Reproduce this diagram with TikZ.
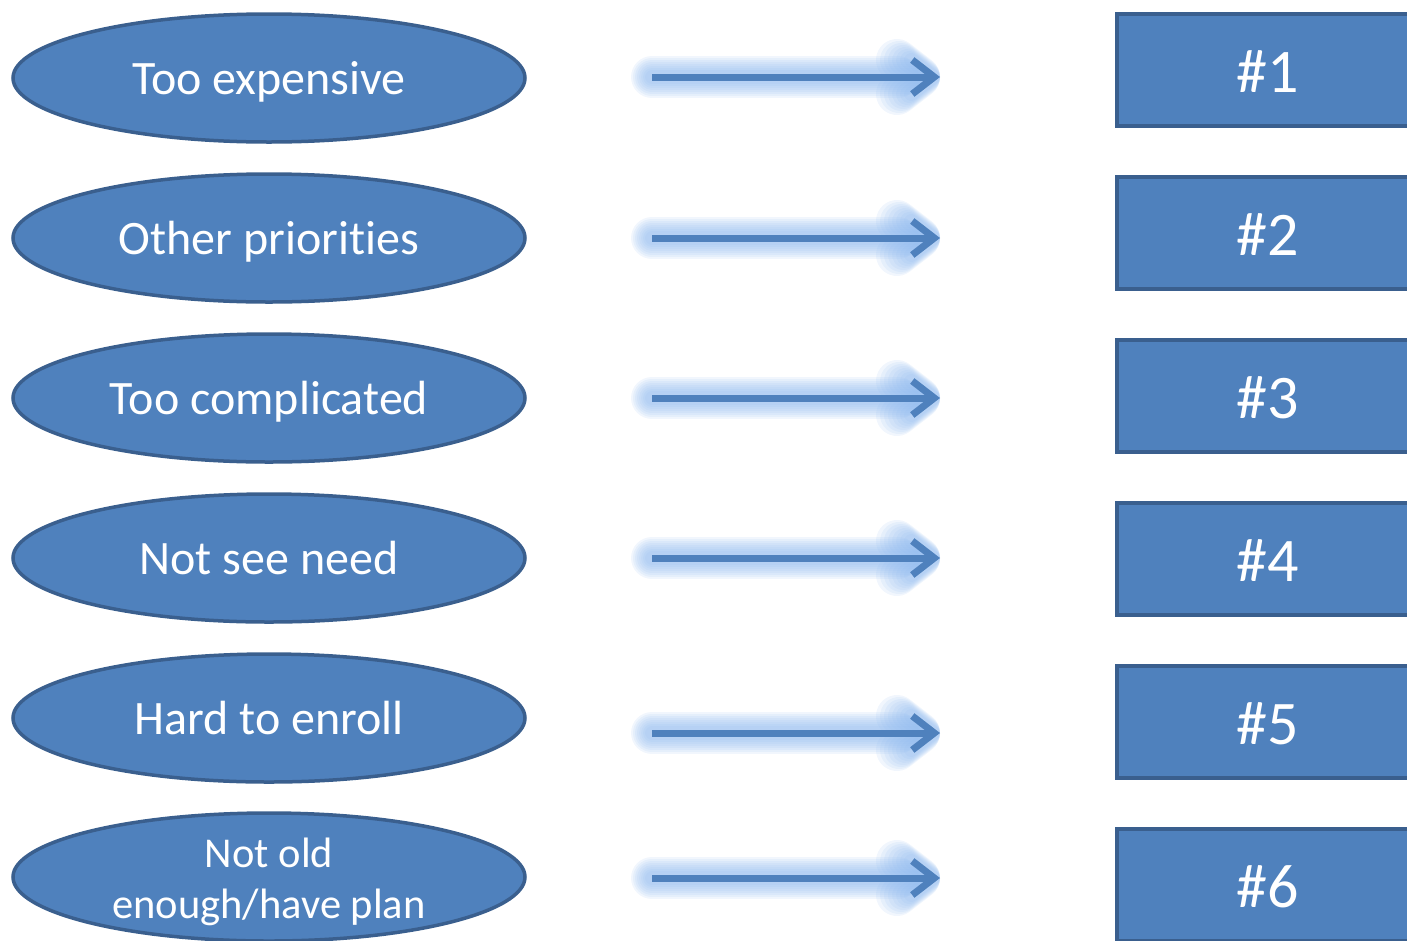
\documentclass[tikz,border=0pt]{standalone}
\usepackage{fontspec}
\setmainfont{Carlito}[Ligatures={NoCommon}]
\usetikzlibrary{shapes.geometric,arrows.meta}
\definecolor{fillblue}{HTML}{4F81BD}
\definecolor{edgeblue}{HTML}{3A5F8E}
\definecolor{glowblue}{HTML}{8DB8EE}
\tikzset{
  reason/.style={ellipse, draw=edgeblue, line width=3.5pt, fill=fillblue,
    minimum width=512pt, minimum height=128pt, inner sep=0pt,
    text=white, font=\fontsize{48}{52}\selectfont, align=center,
    text height=36pt, text depth=4pt},
  rank/.style={rectangle, draw=edgeblue, line width=3.5pt, fill=fillblue,
    minimum width=302pt, minimum height=112pt, inner sep=0pt,
    text=white, font=\fontsize{62}{66}\selectfont,
    text height=46pt, text depth=2pt},
  glowline/.style={draw=glowblue, line cap=round, line join=round,
    -{Straight Barb[length=22pt,width=34pt,line width=#1,round]}, line width=#1},
  mainline/.style={draw=fillblue, line width=7pt,
    -{Straight Barb[length=22pt,width=34pt,line width=7pt]}}
}
\newcommand{\glowarrow}[2]{%
  \foreach \w in {42,38,...,14}{%
    \draw[glowline=\w pt, opacity=0.12] (#1) -- (#2);}
  \draw[mainline] (#1) -- (#2);}
\begin{document}
\begin{tikzpicture}[x=1pt,y=-1pt]
\useasboundingbox (0,0) rectangle (1407,940);
\clip (0,0) rectangle (1407,940);
% reasons
\node[reason] (e1) at (269,78)  {Too expensive};
\node[reason] (e2) at (269,238) {Other priorities};
\node[reason] (e3) at (269,398) {Too complicated};
\node[reason] (e4) at (269,558) {Not see need};
\node[reason] (e5) at (269,718) {Hard to enroll};
\node[reason, font=\fontsize{42.5}{51}\selectfont, text height=86pt, text depth=4pt]
  (e6) at (269,877) {Not old\\enough/have plan};
% ranks
\node[rank] (b1) at (1268,70)  {\#1};
\node[rank] (b2) at (1268,233) {\#2};
\node[rank] (b3) at (1268,396) {\#3};
\node[rank] (b4) at (1268,559) {\#4};
\node[rank] (b5) at (1268,722) {\#5};
\node[rank] (b6) at (1268,885) {\#6};
% arrows
\coordinate (s1) at (652,77);  \coordinate (t1) at (940,77);
\coordinate (s2) at (652,238); \coordinate (t2) at (940,238);
\coordinate (s3) at (652,398); \coordinate (t3) at (940,398);
\coordinate (s4) at (652,558); \coordinate (t4) at (940,558);
\coordinate (s5) at (652,733); \coordinate (t5) at (940,733);
\coordinate (s6) at (652,878); \coordinate (t6) at (940,878);
\glowarrow{s1}{t1}
\glowarrow{s2}{t2}
\glowarrow{s3}{t3}
\glowarrow{s4}{t4}
\glowarrow{s5}{t5}
\glowarrow{s6}{t6}
\end{tikzpicture}
\end{document}
